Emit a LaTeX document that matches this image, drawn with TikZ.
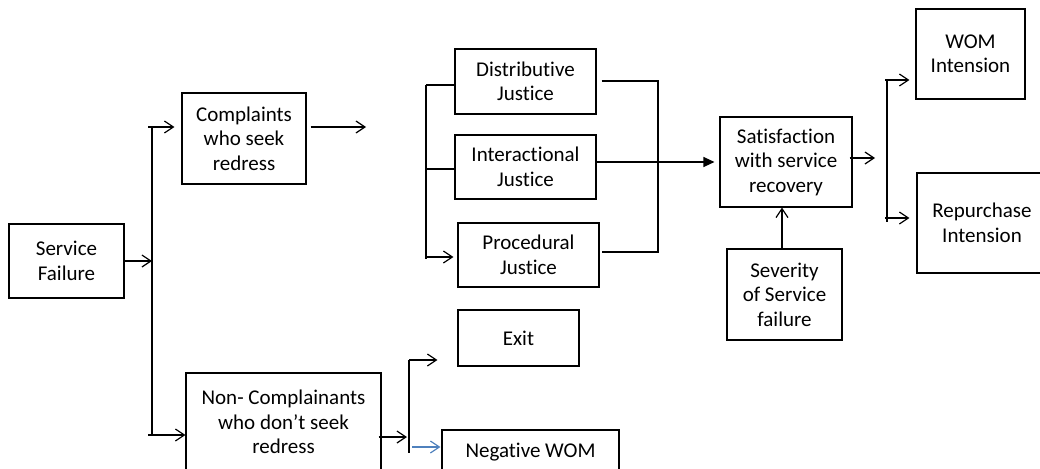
\documentclass[tikz,border=0pt]{standalone}
\usepackage{fontspec}
\setmainfont{Carlito}[Ligatures=NoCommon]
\usetikzlibrary{arrows.meta}
\begin{document}
\begin{tikzpicture}[x=1pt,y=-1pt,
  box/.style={draw, line width=1.1pt, inner sep=0pt, align=center, font=\fontsize{21}{24.5}\selectfont},
  ln/.style={line width=1.2pt},
  arr/.style={ln, -{Straight Barb[length=9pt,width=12pt,line width=1.2pt]}},
  farr/.style={ln, -{Triangle[length=11pt,width=10pt]}},
]
\definecolor{arrblue}{HTML}{4F81BD}
\useasboundingbox (0,0) rectangle (1040,468);

% boxes
\node[box, minimum width=115pt, minimum height=74pt] (sf) at (66.5,261) {Service\\Failure};
\node[box, minimum width=124pt, minimum height=91pt] (co) at (244,138.5) {Complaints\\who seek\\redress};
\node[box, minimum width=195pt, minimum height=98pt] (nc) at (283.5,422) {Non- Complainants\\who don’t seek\\redress};
\node[box, minimum width=121pt, minimum height=56pt] (ex) at (518.5,338) {Exit};
\node[box, minimum width=177pt, minimum height=44pt] (nw) at (530.5,452) {Negative WOM};
\node[box, minimum width=141pt, minimum height=65pt] (dj) at (525.5,81.5) {Distributive\\Justice};
\node[box, minimum width=141pt, minimum height=64pt] (ij) at (525.5,167) {Interactional\\Justice};
\node[box, minimum width=141pt, minimum height=64pt] (pj) at (528.5,255) {Procedural\\Justice};
\node[box, minimum width=132pt, minimum height=90pt] (sat) at (786,162) {Satisfaction\\with service\\recovery};
\node[box, minimum width=115pt, minimum height=91pt] (sev) at (784.5,294.5) {Severity\\of Service\\failure};
\node[box, minimum width=109pt, minimum height=90pt] (wom) at (970.5,54) {WOM\\Intension};
\node[box, minimum width=130pt, minimum height=100pt] (rp) at (982,223) {Repurchase\\Intension};

% junction coordinates
\coordinate (j1) at (152,261);
\coordinate (v1t) at (152,127);
\coordinate (v1b) at (152,435);
\coordinate (a1) at (148,127);
\coordinate (a2) at (148,435);
\coordinate (coe) at (366,127);
\coordinate (lbt) at (426,85);
\coordinate (lbm) at (426,169);
\coordinate (lbb) at (426,259);
\coordinate (lbp) at (426,257);
\coordinate (rbt) at (658,81);
\coordinate (rbb) at (658,252);
\coordinate (v3t) at (887,80);
\coordinate (v3b) at (887,222);
\coordinate (a3) at (885,80);
\coordinate (a4) at (885,218);
\coordinate (j3) at (875,158);
\coordinate (v2t) at (409,360);
\coordinate (v2b) at (409,453);
\coordinate (j2) at (407,437);
\coordinate (a5) at (412,447);

% Service failure branch
\draw[arr] (sf.east) -- (j1);
\draw[ln] (v1t) -- (v1b);
\draw[arr, shorten >=7pt] (a1) -- (co.west |- a1);
\draw[arr] (a2) -- (nc.west |- a2);

% complaints
\draw[arr, shorten <=4pt] (co.east |- coe) -- (coe);

% left bracket to justice boxes
\draw[ln] (lbt) -- (lbb);
\draw[ln] (lbt) -- (dj.west |- lbt);
\draw[ln] (lbm) -- (ij.west |- lbm);
\draw[arr, shorten >=4pt] (lbp) -- (pj.west |- lbp);

% right bracket
\draw[ln, shorten <=5pt] (dj.east |- rbt) -- (rbt) -- (rbb) -- ([xshift=2pt]pj.east |- rbb);
\draw[farr, shorten >=5pt] (ij.east |- 0,162) -- (sat.west |- 0,162);

% satisfaction outputs
\draw[arr, shorten <=-3pt] (sat.east |- j3) -- (j3);
\draw[ln] (v3t) -- (v3b);
\draw[arr, shorten >=6pt] (a3) -- (wom.west |- a3);
\draw[arr, shorten >=7pt] (a4) -- (rp.west |- a4);

% severity
\draw[arr] (sev.north -| 782,0) -- (sat.south -| 782,0);

% non-complainants
\draw[arr, shorten <=-3pt] (nc.east |- j2) -- (j2);
\draw[ln] (v2t) -- (v2b);
\draw[arr, shorten >=20pt] (v2t) -- (ex.west |- v2t);
\draw[arr, draw=arrblue, shorten >=1pt] (a5) -- (nw.west |- a5);
\end{tikzpicture}
\end{document}
